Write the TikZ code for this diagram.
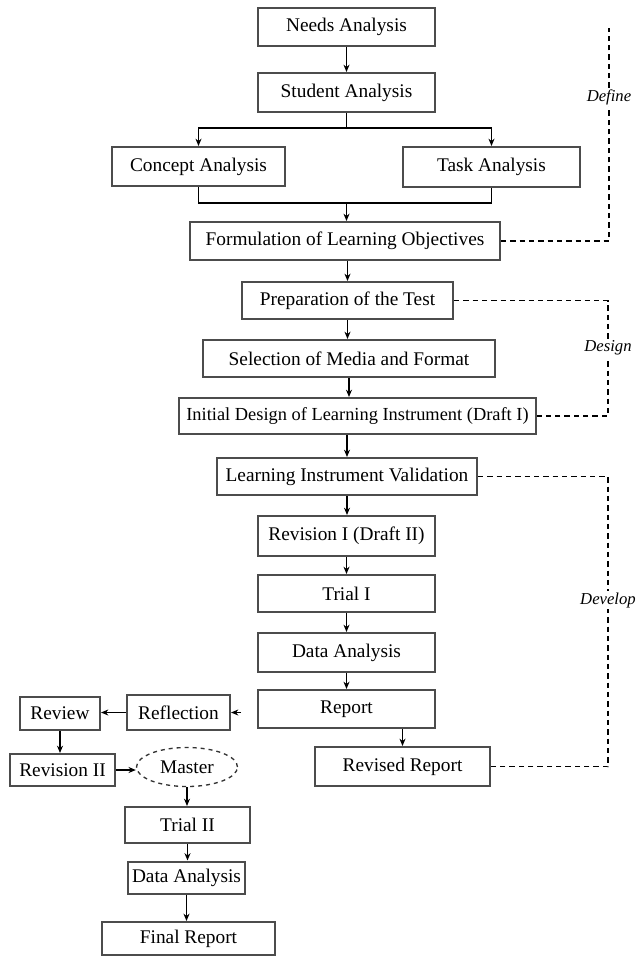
\documentclass[tikz,border=0pt]{standalone}
\usepackage{fontspec}
\setmainfont{Liberation Serif}
\usetikzlibrary{arrows.meta,shapes.geometric}
\begin{document}
\begin{tikzpicture}[x=0.75pt,y=-0.75pt,
  sz/.style 2 args={minimum width=#1*0.75pt,minimum height=#2*0.75pt},
  box/.style={draw=black!70,line width=1.5pt,fill=white,inner sep=0pt,font=\fontsize{14.5}{16}\selectfont},
  conn/.style={line width=0.9pt,-{Stealth[length=5.5pt,width=4.5pt]}},
  plain/.style={line width=0.9pt},
  phase/.style={dashed,line width=0.8pt,dash pattern=on 4pt off 3pt},
  plab/.style={fill=white,inner sep=1pt,font=\itshape\fontsize{12.5}{14}\selectfont}]
\useasboundingbox (0,0) rectangle (636,957);

\node[box,sz={177}{38}] (needs) at (346.5,27) {Needs Analysis};
\node[box,sz={177}{39}] (student) at (346.5,92.5) {Student Analysis};
\node[box,sz={173}{39}] (concept) at (198.5,166.5) {Concept Analysis};
\node[box,sz={177}{40}] (task) at (491.5,167) {Task Analysis};
\node[box,sz={310}{38}] (formul) at (345,241) {Formulation of Learning Objectives};
\node[box,sz={211}{37}] (prep) at (347.5,300.5) {Preparation of the Test};
\node[box,sz={292}{37}] (select) at (349,358.5) {Selection of Media and Format};
\node[box,sz={357}{36},font=\fontsize{13.8}{16}\selectfont] (initial) at (357.5,416) {Initial Design of Learning Instrument (Draft I)};
\node[box,sz={260}{37}] (valid) at (347,476.5) {Learning Instrument Validation};
\node[box,sz={177}{40}] (rev1) at (346.5,536) {Revision I (Draft II)};
\node[box,sz={177}{37}] (trial1) at (346.5,593.5) {Trial I};
\node[box,sz={177}{39}] (data1) at (346.5,652.5) {Data Analysis};
\node[box,sz={177}{38}] (report) at (346.5,709) {Report};
\node[box,sz={175}{39}] (revrep) at (402.5,766.5) {Revised Report};
\node[box,sz={103}{35}] (reflect) at (178.5,712.5) {Reflection};
\node[box,sz={80}{33}] (review) at (60,713.5) {Review};
\node[box,sz={105}{32}] (rev2) at (62.5,770) {Revision II};
\node[draw=black!80,line width=1pt,dashed,ellipse,inner sep=0pt,sz={101}{39},font=\fontsize{14.5}{16}\selectfont] (master) at (187,767) {Master};
\node[box,sz={125}{36}] (trial2) at (187.5,825) {Trial II};
\node[box,sz={117}{32}] (data2) at (186.5,877.5) {Data Analysis};
\node[box,sz={173}{33}] (final) at (188.5,938.5) {Final Report};

% main chain
\draw[conn] (needs) -- (student);
\coordinate (split) at (346.5,128);
\coordinate (join) at (346.5,203);
\draw[plain] (student.south) -- (split);
\draw[conn] (split) -| (concept.north);
\draw[conn] (split) -| (task.north);
\draw[plain] (concept.south) |- (join);
\draw[plain] (task.south) |- (join);
\draw[conn] (join) -- (join |- formul.north);
\draw[conn] (formul.south -| prep.north) -- (prep.north);
\draw[conn] (prep.south) -- (prep.south |- select.north);
\draw[conn] (select.south) -- (select.south |- initial.north);
\draw[conn] (initial.south -| valid.north) -- (valid.north);
\draw[conn] (valid.south) -- (valid.south |- rev1.north);
\draw[conn] (rev1) -- (trial1);
\draw[conn] (trial1) -- (data1);
\draw[conn] (data1) -- (report);
\draw[conn] (report.south -| revrep.north) -- (revrep.north);

% second loop
\coordinate (refin) at (241,712.5);
\draw[conn] (refin) -- (reflect.east);
\draw[conn] (reflect.west) -- (reflect.west -| review.east);
\draw[conn] (review.south) -- (review.south |- rev2.north);
\draw[conn] (rev2.east) -- (rev2.east -| master.west);
\draw[conn] (master.south) -- (master.south |- trial2.north);
\draw[conn] (trial2.south) -- (trial2.south |- data2.north);
\draw[conn] (data2.south) -- (data2.south |- final.north);

% phases
\coordinate (deftop) at (609,28);
\draw[phase] (formul.east) -- (609,241) -- (deftop);
\node[plab] (define) at (609,97) {Define};
\draw[phase] (prep.east) -- (608,300.5) -- (608,416) -- (initial.east);
\node[plab] (design) at (608,348) {Design};
\draw[phase] (valid.east) -- (608,476.5) -- (608,766.5) -- (revrep.east);
\node[plab] (develop) at (608,600) {Develop};
\end{tikzpicture}
\end{document}
